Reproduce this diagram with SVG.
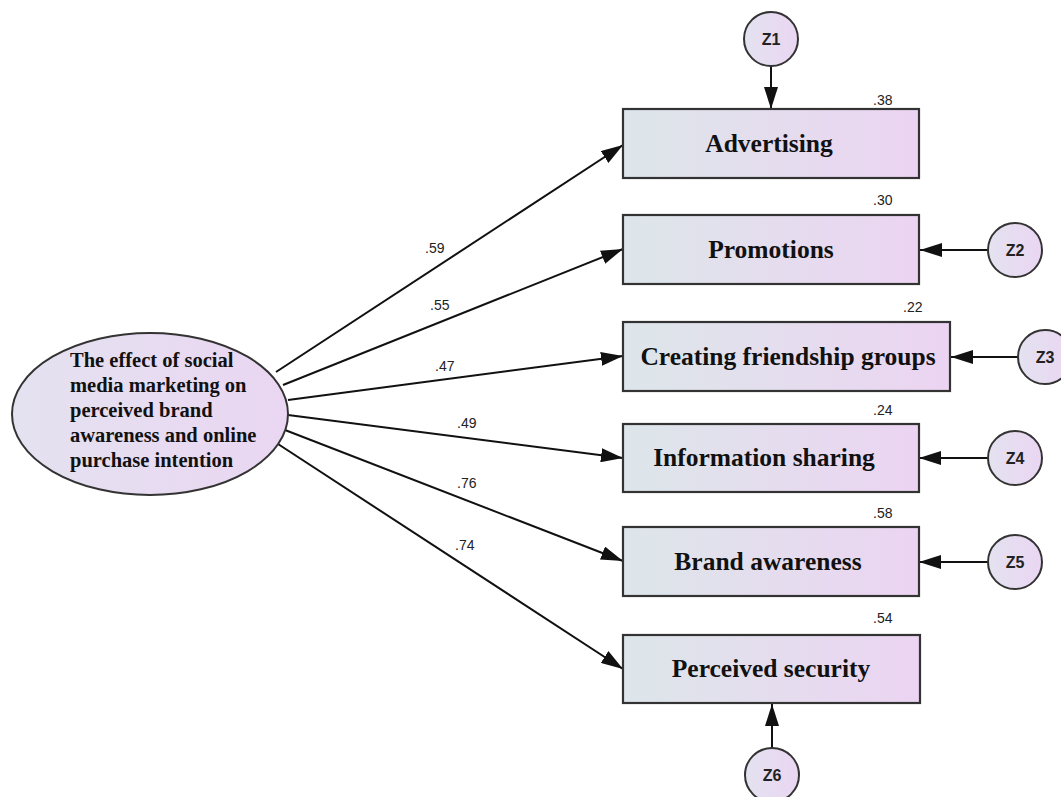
<svg xmlns="http://www.w3.org/2000/svg" width="1061" height="797" viewBox="0 0 1061 797">
<defs>
<linearGradient id="gBox" x1="0" y1="0" x2="1" y2="0">
<stop offset="0" stop-color="#dde6ea"/>
<stop offset="1" stop-color="#ecd4f2"/>
</linearGradient>
<linearGradient id="gCirc" x1="0" y1="0" x2="1" y2="0">
<stop offset="0" stop-color="#e4e2f0"/>
<stop offset="1" stop-color="#ead6f2"/>
</linearGradient>
<marker id="arr" markerUnits="userSpaceOnUse" markerWidth="22" markerHeight="14" viewBox="0 0 22 14" refX="22" refY="7" orient="auto">
<path d="M0,0 L22,7 L0,14 Z" fill="#111"/>
</marker>
</defs>
<style>
.box{fill:url(#gBox);stroke:#333;stroke-width:2.2}
.circ{fill:url(#gCirc);stroke:#333;stroke-width:2}
.bt{font-family:"Liberation Serif",serif;font-weight:bold;font-size:25.5px;fill:#111;text-anchor:middle}
.et{font-family:"Liberation Serif",serif;font-weight:bold;font-size:20.5px;fill:#111}
.zt{font-family:"Liberation Sans",Arial,sans-serif;font-weight:bold;font-size:16px;fill:#222;text-anchor:middle}
.lb{font-family:"Liberation Sans",Arial,sans-serif;font-size:14px;fill:#222}
.ln{stroke:#111;stroke-width:2;fill:none;marker-end:url(#arr)}
</style>
<rect width="1061" height="797" fill="#fff"/>
<g id="connectors">
<line class="ln" x1="276" y1="372" x2="623" y2="145"/>
<line class="ln" x1="283" y1="385" x2="623" y2="249"/>
<line class="ln" x1="288" y1="400" x2="623" y2="356"/>
<line class="ln" x1="288" y1="415" x2="623" y2="458"/>
<line class="ln" x1="285" y1="430" x2="623" y2="561"/>
<line class="ln" x1="278" y1="444" x2="623" y2="669"/>
<line class="ln" x1="771" y1="66" x2="771" y2="109"/>
<line class="ln" x1="988" y1="250" x2="920" y2="250"/>
<line class="ln" x1="1018" y1="357" x2="951" y2="357"/>
<line class="ln" x1="988" y1="458" x2="919" y2="458"/>
<line class="ln" x1="988" y1="562" x2="919" y2="562"/>
<line class="ln" x1="772" y1="748" x2="772" y2="704"/>
<text class="lb" x="425" y="253">.59</text>
<text class="lb" x="430" y="310">.55</text>
<text class="lb" x="435" y="371">.47</text>
<text class="lb" x="457" y="428">.49</text>
<text class="lb" x="457" y="488">.76</text>
<text class="lb" x="455" y="550">.74</text>
</g>
<g id="latent">
<ellipse cx="150" cy="414" rx="138" ry="81" fill="url(#gCirc)" stroke="#333" stroke-width="2"/>
<text class="et" x="70" y="367">The effect of social</text>
<text class="et" x="70" y="392">media marketing on</text>
<text class="et" x="70" y="417">perceived brand</text>
<text class="et" x="70" y="442">awareness and online</text>
<text class="et" x="70" y="467">purchase intention</text>
</g>
<g id="advertising">
<rect class="box" x="623" y="109" width="296" height="69"/>
<text class="bt" x="769" y="152">Advertising</text>
<text class="lb" x="873" y="105">.38</text>
</g>
<g id="promotions">
<rect class="box" x="623" y="215" width="296" height="69"/>
<text class="bt" x="771" y="258">Promotions</text>
<text class="lb" x="873" y="205">.30</text>
</g>
<g id="friendship">
<rect class="box" x="623" y="322" width="327" height="69"/>
<text class="bt" x="788" y="365">Creating friendship groups</text>
<text class="lb" x="903" y="312">.22</text>
</g>
<g id="information">
<rect class="box" x="623" y="424" width="296" height="68"/>
<text class="bt" x="764" y="466">Information sharing</text>
<text class="lb" x="873" y="415">.24</text>
</g>
<g id="brand">
<rect class="box" x="623" y="527" width="296" height="69"/>
<text class="bt" x="768" y="570">Brand awareness</text>
<text class="lb" x="873" y="518">.58</text>
</g>
<g id="security">
<rect class="box" x="623" y="635" width="297" height="68"/>
<text class="bt" x="771" y="677">Perceived security</text>
<text class="lb" x="873" y="623">.54</text>
</g>
<g id="z1"><circle class="circ" cx="771" cy="39" r="27"/><text class="zt" x="771" y="45">Z1</text></g>
<g id="z2"><circle class="circ" cx="1015" cy="250" r="27"/><text class="zt" x="1015" y="256">Z2</text></g>
<g id="z3"><circle class="circ" cx="1045" cy="357" r="27"/><text class="zt" x="1045" y="363">Z3</text></g>
<g id="z4"><circle class="circ" cx="1015" cy="458" r="27"/><text class="zt" x="1015" y="464">Z4</text></g>
<g id="z5"><circle class="circ" cx="1015" cy="562" r="27"/><text class="zt" x="1015" y="568">Z5</text></g>
<g id="z6"><circle class="circ" cx="772" cy="775" r="27"/><text class="zt" x="772" y="781">Z6</text></g>
</svg>
